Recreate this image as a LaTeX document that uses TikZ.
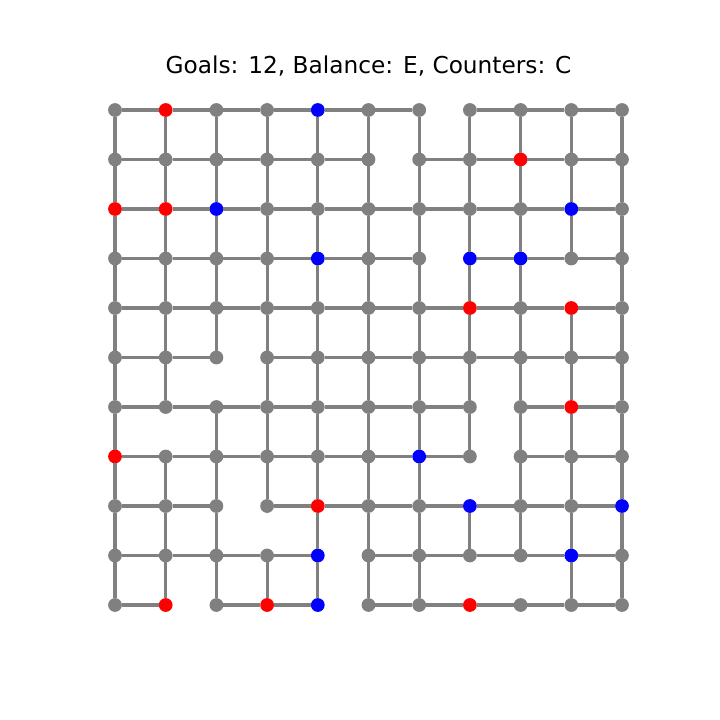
\documentclass[tikz,border=0pt]{standalone}
\usepackage{fontspec}
\setmainfont{DejaVu Sans}
\usepackage{tikz}
\definecolor{dotGray}{RGB}{128, 128, 128}
\definecolor{goalRed}{RGB}{255, 0, 0}
\definecolor{counterBlue}{RGB}{0, 0, 255}

% coloured dots: row, column, colour
\newcommand{\setdot}[3]{\expandafter\def\csname dot-#1-#2\endcsname{#3}}
% missing links: h/v, row, column
\newcommand{\cutlink}[3]{\expandafter\def\csname cut-#1-#2-#3\endcsname{}}

\setdot{0}{1}{goalRed}  \setdot{1}{8}{goalRed}  \setdot{2}{0}{goalRed}
\setdot{2}{1}{goalRed}  \setdot{4}{7}{goalRed}  \setdot{4}{9}{goalRed}
\setdot{6}{9}{goalRed}  \setdot{7}{0}{goalRed}  \setdot{8}{4}{goalRed}
\setdot{10}{1}{goalRed} \setdot{10}{3}{goalRed} \setdot{10}{7}{goalRed}
\setdot{0}{4}{counterBlue}  \setdot{2}{2}{counterBlue}  \setdot{2}{9}{counterBlue}
\setdot{3}{4}{counterBlue}  \setdot{3}{7}{counterBlue}  \setdot{3}{8}{counterBlue}
\setdot{7}{6}{counterBlue}  \setdot{8}{7}{counterBlue}  \setdot{8}{10}{counterBlue}
\setdot{9}{4}{counterBlue}  \setdot{9}{9}{counterBlue}  \setdot{10}{4}{counterBlue}

\cutlink{h}{0}{6} \cutlink{h}{1}{5} \cutlink{h}{3}{6} \cutlink{h}{5}{2}
\cutlink{h}{6}{7} \cutlink{h}{7}{7} \cutlink{h}{8}{2} \cutlink{h}{9}{4}
\cutlink{h}{10}{1} \cutlink{h}{10}{4}
\cutlink{v}{3}{9} \cutlink{v}{5}{2} \cutlink{v}{6}{1} \cutlink{v}{7}{7}
\cutlink{v}{8}{3} \cutlink{v}{9}{7} \cutlink{v}{9}{8}

\begin{document}
\begin{tikzpicture}[x=0.0254cm, y=-0.0254cm,
    dot/.style={circle, minimum size=0.35cm, inner sep=0pt, outer sep=0pt},
    link/.style={dotGray, line width=2.2pt}]
        \useasboundingbox (0,0) rectangle (720,720);
        \node (title) at (368.5,66) {\fontsize{16.8}{20}\selectfont Goals: 12, Balance: E, Counters: C};
        % dots
        \foreach \r in {0,...,10}
          \foreach \c in {0,...,10} {
            \ifcsname dot-\r-\c\endcsname
              \edef\dotcol{\csname dot-\r-\c\endcsname}%
            \else
              \def\dotcol{dotGray}%
            \fi
            \node[dot, fill=\dotcol] (n-\r-\c) at (115+50.7*\c, 110+49.5*\r) {};
          }
        % horizontal links
        \foreach \r in {0,...,10}
          \foreach \c [count=\d from 1] in {0,...,9} {
            \ifcsname cut-h-\r-\c\endcsname\else
              \draw[link] (n-\r-\c) -- (n-\r-\d);
            \fi
          }
        % vertical links
        \foreach \r [count=\s from 1] in {0,...,9}
          \foreach \c in {0,...,10} {
            \ifcsname cut-v-\r-\c\endcsname\else
              \draw[link] (n-\r-\c) -- (n-\s-\c);
            \fi
          }
      \end{tikzpicture}
\end{document}
